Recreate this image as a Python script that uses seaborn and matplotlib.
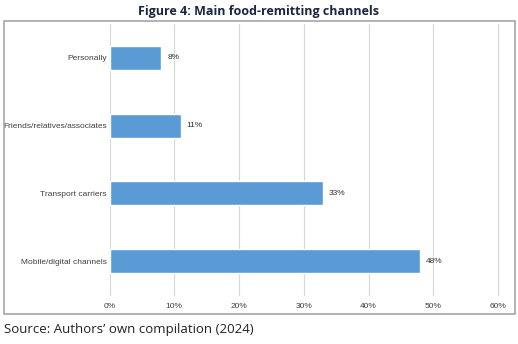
import matplotlib
matplotlib.use("Agg")
import matplotlib.pyplot as plt
import seaborn as sns
import pandas as pd
from matplotlib.patches import Rectangle
from matplotlib.ticker import PercentFormatter

# ── Data ──────────────────────────────────────────────────────────────────────
channels = ["Personally", "Friends/relatives/associates",
            "Transport carriers", "Mobile/digital channels"]
shares = [8, 11, 33, 48]
xticks = [0, 10, 20, 30, 40, 50, 60]

df = pd.DataFrame({"channel": channels, "share": shares})

sns.set_theme(style="white")
plt.rcParams["font.family"] = ["Liberation Sans", "DejaVu Sans"]

fig = plt.figure(figsize=(5.18, 3.44), dpi=100)
ax = fig.add_axes([0.2114, 0.1424, 0.75, 0.7878])

sns.barplot(data=df, x="share", y="channel", order=channels, color="#5b9bd5",
            width=0.355, saturation=1, ax=ax, zorder=3)

for i, v in enumerate(shares):
    ax.text(v + 0.9, i, f"{v}%", va="center", ha="left",
            fontsize=6, color="#333333")

ax.set_xlim(0, 60)
ax.set_xticks(xticks)
ax.xaxis.set_major_formatter(PercentFormatter(decimals=0))
ax.grid(axis="x", color="#d9d9d9", lw=0.9, zorder=0)
for gl in ax.xaxis.get_gridlines():
    gl.set_clip_on(False)
ax.set_xlabel(""); ax.set_ylabel("")
for s in ax.spines.values():
    s.set_visible(False)
ax.tick_params(axis="both", length=0, labelsize=6, colors="#404040")
ax.tick_params(axis="x", pad=6)
ax.tick_params(axis="y", pad=2)

# outer chart frame
fig.patches.append(Rectangle((4 / 518, 1 - 314 / 344), 511 / 518, 293 / 344,
                             transform=fig.transFigure, fill=False,
                             edgecolor="#a6a6a6", lw=1.2))

fig.text(0.5, 1 - 11 / 344, "Figure 4: Main food-remitting channels",
         ha="center", va="center", fontsize=9, fontweight="bold",
         color="#1c2541", family=["Open Sans", "DejaVu Sans"])
fig.text(4 / 518, 1 - 329 / 344, "Source: Authors\u2019 own compilation (2024)",
         ha="left", va="center", fontsize=9.5, color="#222222",
         family=["Open Sans", "DejaVu Sans"])

plt.savefig("out.png", dpi=100)
